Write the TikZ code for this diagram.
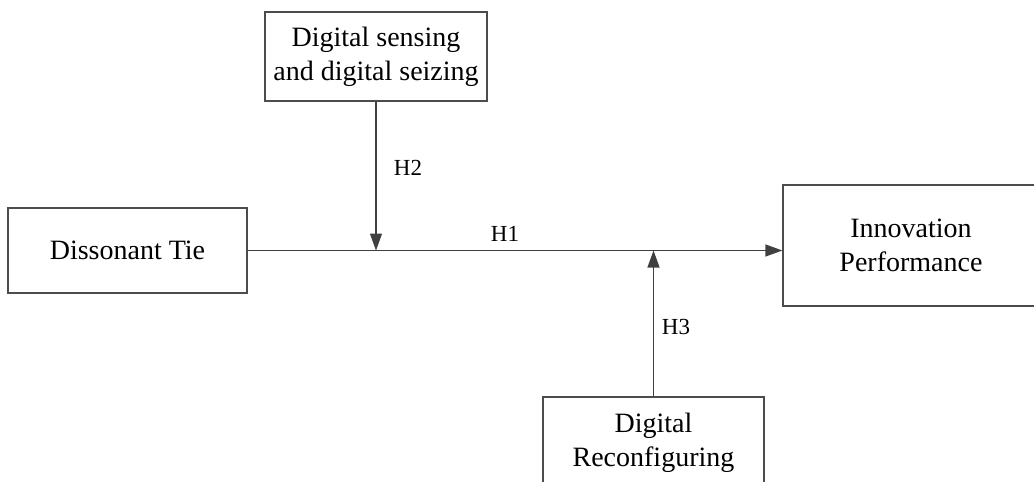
\documentclass[tikz,border=0pt]{standalone}
\usepackage{fontspec}
\setmainfont{Liberation Serif}
\usetikzlibrary{shapes, arrows.meta}
\tikzstyle{box} = [rectangle, draw=black!70, line width=0.6pt, align=center, inner sep=0pt, font=\fontsize{14}{17}\selectfont]
\tikzstyle{arrow} = [draw=black!75, line width=0.6pt, -{Triangle[length=8.5pt,width=6pt]}]
\tikzstyle{hlabel} = [font=\fontsize{11.5}{13}\selectfont]

\begin{document}
\begin{tikzpicture}[x=0.5pt, y=-0.5pt]
\useasboundingbox (0,0) rectangle (1034,482);
\clip (0,0) rectangle (1034,482);
\node[box, minimum width=119.5pt, minimum height=42.5pt] (tie) at (127.5,250.5) {Dissonant Tie};
\node[box, minimum width=111pt, minimum height=44.5pt] (sense) at (376,56.5) {Digital sensing\\and digital seizing};
\node[box, minimum width=128pt, minimum height=60.5pt] (perf) at (911,245.5) {Innovation\\Performance};
\node[box, minimum width=110.5pt, minimum height=46pt] (reconf) at (653.5,443) {Digital\\Reconfiguring};

\coordinate (m2) at (sense.south |- tie.east);
\coordinate (m3) at (reconf.north |- tie.east);

\draw[arrow] (tie.east) -- (perf.west |- tie.east);
\draw[arrow] (sense.south) -- (m2);
\draw[arrow] (reconf.north) -- (m3);

\node[hlabel] (h1) at (505,234) {H1};
\node[hlabel] (h2) at (408,168) {H2};
\node[hlabel] (h3) at (676,327) {H3};
\end{tikzpicture}
\end{document}
